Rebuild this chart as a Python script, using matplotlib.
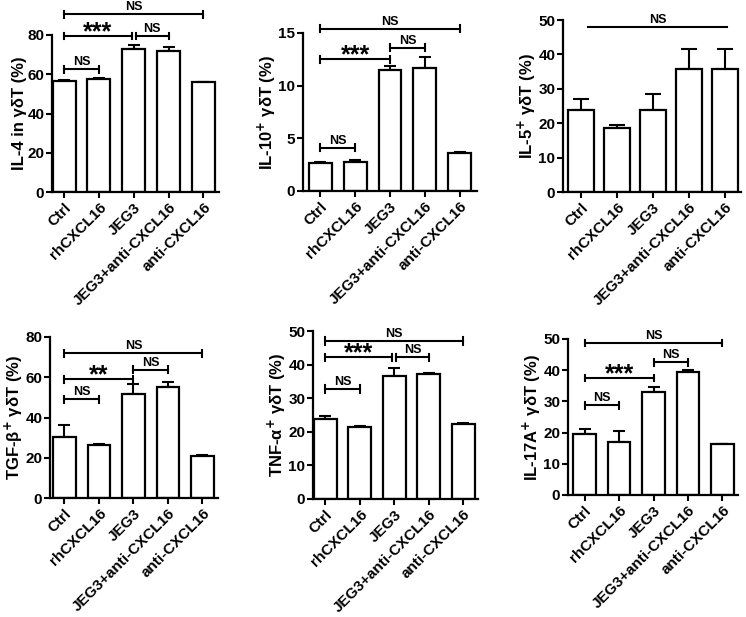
import matplotlib

matplotlib.use("Agg")
import matplotlib.pyplot as plt
import numpy as np

plt.rcParams["font.family"] = ["Liberation Sans", "DejaVu Sans"]
plt.rcParams["font.weight"] = "bold"
plt.rcParams["axes.labelweight"] = "bold"
plt.rcParams["mathtext.default"] = "bf"

groups = ["Ctrl", "rhCXCL16", "JEG3", "JEG3+anti-CXCL16", "anti-CXCL16"]

il4_mean = [56.6, 57.6, 73.0, 72.0, 55.8]
il4_sem = [0.5, 0.4, 2.0, 1.8, 0.3]
il10_mean = [2.7, 2.8, 11.5, 11.7, 3.6]
il10_sem = [0.1, 0.1, 0.4, 1.0, 0.1]
il5_mean = [23.8, 18.6, 23.8, 35.7, 35.8]
il5_sem = [3.1, 0.8, 4.6, 5.8, 5.9]
tgfb_mean = [30.5, 26.2, 51.8, 55.3, 20.8]
tgfb_sem = [5.8, 0.7, 4.8, 2.2, 0.5]
tnfa_mean = [23.8, 21.3, 36.7, 37.2, 22.3]
tnfa_sem = [0.9, 0.3, 2.3, 0.2, 0.2]
il17_mean = [19.5, 17.0, 33.0, 39.3, 16.2]
il17_sem = [1.6, 3.4, 1.7, 0.7, 0.3]

# (x1, x2, height, label)
il4_sig = [(0, 4, 90.5, "NS"), (0, 1.94, 79.5, "***"), (2.06, 3, 79.5, "NS"), (0, 1, 62.5, "NS")]
il10_sig = [(0, 4, 15.4, "NS"), (0, 2, 12.5, "***"), (2, 3, 13.6, "NS"), (0, 1, 4.1, "NS")]
il5_sig = [(0.2, 4.05, 48.0, "NS")]
tgfb_sig = [(0, 4, 72.0, "NS"), (0, 2, 59.0, "**"), (2, 3, 63.7, "NS"), (0, 1, 49.0, "NS")]
tnfa_sig = [(0, 4, 47.0, "NS"), (0, 1.94, 42.2, "***"), (2.06, 3, 42.2, "NS"), (0, 1, 32.7, "NS")]
il17_sig = [(0, 4, 48.7, "NS"), (0, 2, 37.5, "***"), (2, 3, 42.6, "NS"), (0, 1, 28.8, "NS")]

W, H = 746, 617


def _panel(fig, box, xlim, ymax, ystep, means, sems, ylabel, sig, bw=0.66, caps=True, capsize=4):
    left, right, top, bottom = box
    ax = fig.add_axes([left / W, 1 - bottom / H, (right - left) / W, (bottom - top) / H])
    x = np.arange(len(means))
    ax.bar(x, means, width=bw, color="white", edgecolor="black", linewidth=1.6, zorder=2)
    ax.errorbar(x, means, yerr=[np.zeros(len(sems)), sems], fmt="none", ecolor="black",
                elinewidth=1.5, capsize=capsize, capthick=1.5, zorder=1)
    ax.set_xlim(*xlim)
    ax.set_ylim(0, ymax)
    ax.set_yticks(np.arange(0, ymax + 0.01, ystep))
    ax.set_xticks(x)
    ax.set_xticklabels(groups, rotation=45, ha="right", rotation_mode="anchor",
                       fontsize=11, fontweight="bold")
    ax.tick_params(axis="both", direction="out", width=1.5, length=4, labelsize=11)
    ax.tick_params(axis="x", pad=2)
    ax.tick_params(axis="y", pad=1.5)
    for s in ("top", "right"):
        ax.spines[s].set_visible(False)
    for s in ("left", "bottom"):
        ax.spines[s].set_linewidth(1.6)
    ax.set_ylabel(ylabel, fontsize=12, fontweight="bold", labelpad=0.5)
    for x1, x2, h, lab in sig:
        ax.plot([x1, x2], [h, h], color="black", lw=1.5, clip_on=False)
        if caps:
            dy = ymax * 0.022
            for xe in (x1, x2):
                ax.plot([xe, xe], [h - dy, h + dy], color="black", lw=1.5, clip_on=False)
        if "*" in lab:
            ax.annotate(lab, ((x1 + x2) / 2, h), xytext=(0, -2.5), textcoords="offset points",
                        ha="center", va="baseline", fontsize=18, fontweight="bold",
                        annotation_clip=False)
        else:
            ax.annotate(lab, ((x1 + x2) / 2, h), xytext=(0, 3), textcoords="offset points",
                        ha="center", va="baseline", fontsize=9, fontweight="bold",
                        annotation_clip=False)
    return ax


fig = plt.figure(figsize=(W / 100, H / 100), dpi=100)

_panel(fig, (52, 219, 35, 192), (-0.35, 4.45), 80, 20, il4_mean, il4_sem,
       "IL-4 in γδT (%)", il4_sig)
_panel(fig, (303, 477, 33, 191), (-0.5, 4.5), 15, 5, il10_mean, il10_sem,
       "IL-10$^{+}$ γδT (%)", il10_sig)
_panel(fig, (563, 741, 20, 192), (-0.5, 4.45), 50, 10, il5_mean, il5_sem,
       "IL-5$^{+}$ γδT (%)", il5_sig, bw=0.72, caps=False, capsize=6)
_panel(fig, (50, 218, 337, 498), (-0.42, 4.45), 80, 20, tgfb_mean, tgfb_sem,
       "TGF-β$^{+}$ γδT (%)", tgfb_sig)
_panel(fig, (313, 478, 331, 499), (-0.36, 4.43), 50, 10, tnfa_mean, tnfa_sem,
       "TNF-α$^{+}$ γδT (%)", tnfa_sig)
_panel(fig, (568, 738, 339, 495), (-0.48, 4.45), 50, 10, il17_mean, il17_sem,
       "IL-17A$^{+}$ γδT (%)", il17_sig)

fig.savefig("out.png", dpi=100)
